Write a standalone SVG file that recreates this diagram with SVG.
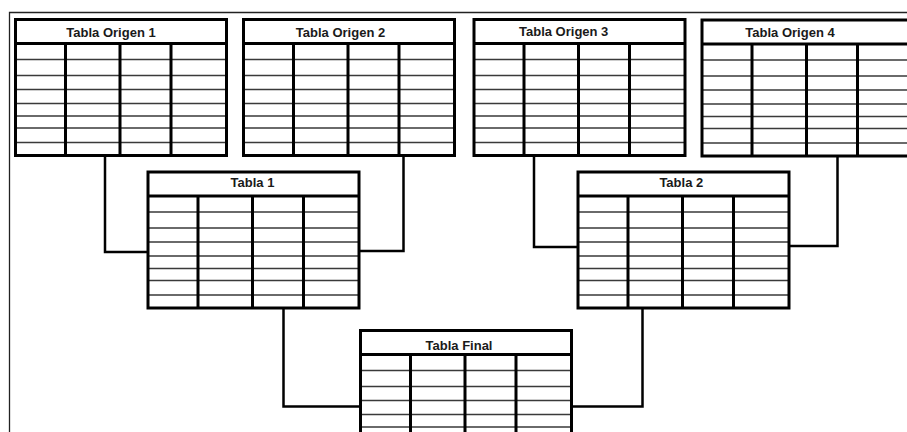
<svg xmlns="http://www.w3.org/2000/svg" xmlns:xlink="http://www.w3.org/1999/xlink" width="907" height="432" viewBox="0 0 907 432">
<style>
.frame{fill:none;stroke:#222;stroke-width:1.3}
.box{fill:#fff;stroke:none}
.outline{fill:none;stroke:#000;stroke-width:3}
.row{stroke:#3a3a3a;stroke-width:1.5}
.col{stroke:#000;stroke-width:3}
.hdr{stroke:#000;stroke-width:3}
.title{font-family:"Liberation Sans",Arial,sans-serif;font-weight:bold;font-size:13px;fill:#1a1a1a;text-anchor:middle}
.conn{fill:none;stroke:#000;stroke-width:2.5}
</style>
<defs>
<g id="grid">
<rect class="box" x="0" y="0" width="211" height="136"/>
<path class="row" d="M0,40H211M0,56H211M0,70H211M0,84H211M0,96.5H211M0,108.5H211M0,123H211"/>
<path class="col" d="M50,24V136M104.5,24V136M155.5,24V136"/>
<path class="hdr" d="M0,24H211"/>
<rect class="outline" x="0" y="0" width="211" height="136"/>
</g>
</defs>
<path class="frame" d="M9.5,432V12.5H907"/>
<g id="connectors">
<path class="conn" d="M105,155.5V252H148"/>
<path class="conn" d="M403.5,155.5V251H358.7"/>
<path class="conn" d="M534,155.5V247H578"/>
<path class="conn" d="M837.5,156V246H789"/>
<path class="conn" d="M283.5,308V406.5H360.5"/>
<path class="conn" d="M642.5,308V406.5H571.5"/>
</g>
<g id="tabla-origen-1">
<use xlink:href="#grid" href="#grid" transform="translate(15.5,19.5)"/>
<text class="title" x="111" y="37">Tabla Origen 1</text>
</g>
<g id="tabla-origen-2">
<use xlink:href="#grid" href="#grid" transform="translate(243.5,19.5)"/>
<text class="title" x="340.5" y="37">Tabla Origen 2</text>
</g>
<g id="tabla-origen-3">
<use xlink:href="#grid" href="#grid" transform="translate(474,19.5)"/>
<text class="title" x="563.7" y="36">Tabla Origen 3</text>
</g>
<g id="tabla-origen-4">
<use xlink:href="#grid" href="#grid" transform="translate(702,20)"/>
<text class="title" x="790" y="37">Tabla Origen 4</text>
</g>
<g id="tabla-1">
<use xlink:href="#grid" href="#grid" transform="translate(148,172)"/>
<text class="title" x="252.5" y="187">Tabla 1</text>
</g>
<g id="tabla-2">
<use xlink:href="#grid" href="#grid" transform="translate(578,172)"/>
<text class="title" x="681.3" y="187">Tabla 2</text>
</g>
<g id="tabla-final">
<use xlink:href="#grid" href="#grid" transform="translate(360.5,330.5)"/>
<text class="title" x="459" y="350">Tabla Final</text>
</g>
</svg>
